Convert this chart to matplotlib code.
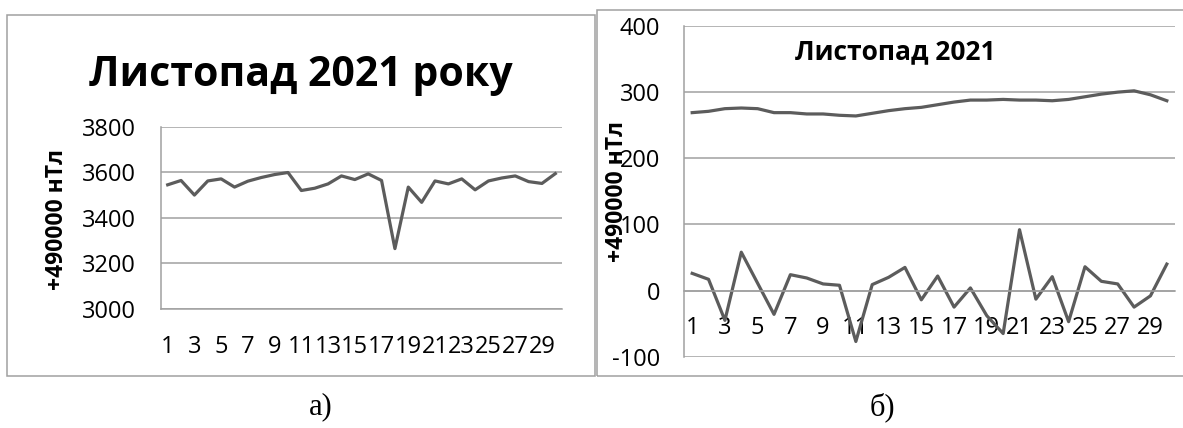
import matplotlib.pyplot as plt
from matplotlib.patches import Rectangle

# дані: Листопад 2021, +490000 нТл
days = list(range(1, 31))

# а) один ряд
series_a = [3545, 3564, 3500, 3562, 3571, 3535, 3561, 3577, 3590, 3599,
            3520, 3530, 3549, 3584, 3568, 3593, 3564, 3265, 3535, 3468,
            3562, 3549, 3571, 3523, 3562, 3575, 3584, 3559, 3551, 3594]

# б) два ряди
series_b_upper = [269, 271, 275, 276, 275, 269, 269, 267, 267, 265,
                  264, 268, 272, 275, 277, 281, 285, 288, 288, 289,
                  288, 288, 287, 289, 293, 297, 300, 302, 296, 287]
series_b_lower = [26, 17, -45, 58, 11, -36, 24, 19, 10, 8,
                  -77, 9, 20, 35, -14, 22, -25, 4, -38, -65,
                  92, -13, 21, -47, 36, 14, 10, -25, -8, 40]

yticks_a = [3000, 3200, 3400, 3600, 3800]
yticks_b = [-100, 0, 100, 200, 300, 400]
xticks_odd = list(range(1, 30, 2))

W, H = 1183, 428
LINE = "#5c5c5c"
GRID = "#a0a0a0"
FONT = "Open Sans"

plt.rcParams["font.family"] = [FONT, "DejaVu Sans"]
plt.rcParams["axes.unicode_minus"] = False


def px(x0, y0, x1, y1):
    # піксельні координати -> частки фігури
    return [x0 / W, 1 - y1 / H, (x1 - x0) / W, (y1 - y0) / H]


def style_axes(ax, yticks, pad_y, pad_x):
    ax.set_yticks(yticks)
    ax.set_ylim(yticks[0], yticks[-1])
    ax.set_xlim(0.5, 30.5)
    ax.set_xticks(xticks_odd)
    ax.set_xticklabels([str(d) for d in xticks_odd])
    ax.grid(axis="y", color=GRID, linewidth=1.1)
    ax.set_axisbelow(True)
    for s in ["top", "right"]:
        ax.spines[s].set_visible(False)
    for s in ["left", "bottom"]:
        ax.spines[s].set_color(GRID)
        ax.spines[s].set_linewidth(1.1)
    ax.tick_params(axis="y", length=0, pad=pad_y, labelsize=17)
    ax.tick_params(axis="x", length=0, pad=pad_x, labelsize=17)
    ax.patch.set_alpha(0)


fig = plt.figure(figsize=(W / 100, H / 100), dpi=100)

# рамки діаграм
for x0, y0, x1, y1 in [(7, 15, 595, 376), (597, 10, 1195, 376)]:
    fig.add_artist(Rectangle((x0 / W, 1 - y1 / H), (x1 - x0) / W, (y1 - y0) / H,
                             transform=fig.transFigure, fill=False,
                             edgecolor=GRID, linewidth=1.1))

# --- а) ---
ax1 = fig.add_axes(px(161, 126.7, 562, 309))
ax1.plot(days, series_a, color=LINE, linewidth=2.3)
style_axes(ax1, yticks_a, 18, 19)
fig.text(301 / W, 1 - 75 / H, "Листопад 2021 року", ha="center", va="center",
         fontsize=29.5, fontweight="bold")
fig.text(57 / W, 1 - 219 / H, "+490000 нТл", ha="center", va="center",
         rotation=90, fontsize=16.5, fontweight="bold")

# --- б) ---
ax2 = fig.add_axes(px(684, 26, 1175, 356.7))
ax2.plot(days, series_b_upper, color=LINE, linewidth=2.3)
ax2.plot(days, series_b_lower, color=LINE, linewidth=2.3)
style_axes(ax2, yticks_b, 17, 18)
ax2.spines["bottom"].set_position(("data", 0))
fig.text(895 / W, 1 - 52 / H, "Листопад 2021", ha="center", va="center",
         fontsize=19, fontweight="bold")
fig.text(617 / W, 1 - 192 / H, "+490000 нТл", ha="center", va="center",
         rotation=90, fontsize=16.5, fontweight="bold")

# підписи а) б)
fig.text(321 / W, 1 - 407 / H, "а)", ha="center", va="center",
         fontsize=22, family="Liberation Serif")
fig.text(882 / W, 1 - 407 / H, "б)", ha="center", va="center",
         fontsize=22, family="Liberation Serif")

fig.savefig("out.png", dpi=100)
